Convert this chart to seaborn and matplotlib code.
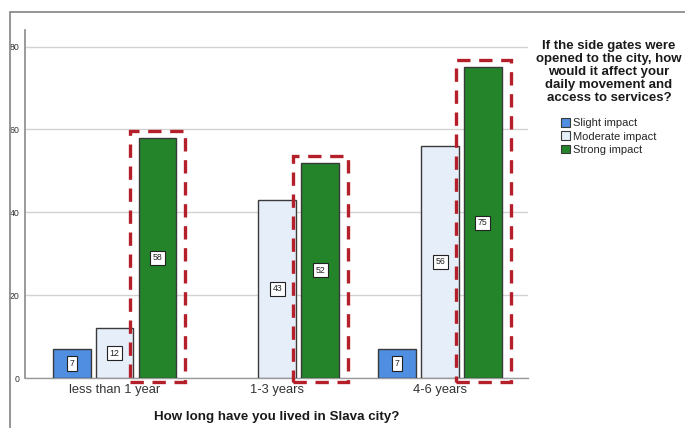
import matplotlib
matplotlib.use("Agg")
import matplotlib.pyplot as plt
from matplotlib.patches import Rectangle, Patch
import seaborn as sns
import pandas as pd

# ---- data ----
categories = ["less than 1 year", "1-3 years", "4-6 years"]
impact_levels = ["Slight impact", "Moderate impact", "Strong impact"]
slight = [7, None, 7]
moderate = [12, 43, 56]
strong = [58, 52, 75]
y_ticks = [0, 20, 40, 60, 80]

colors = ["#4f8ee0", "#e6eef9", "#24842a"]
edge = "#3a3a3a"

rows = []
for level, vals in zip(impact_levels, [slight, moderate, strong]):
    for cat, v in zip(categories, vals):
        if v is not None:
            rows.append({"cat": cat, "level": level, "value": v})
df = pd.DataFrame(rows)

sns.set_theme(style="white")
plt.rcParams["font.family"] = ["Liberation Sans", "DejaVu Sans"]

fig = plt.figure(figsize=(6.85, 4.28), dpi=100)
ax = fig.add_axes([25 / 685, 1 - 378 / 428, (528 - 25) / 685, (378 - 30) / 428])

sns.barplot(data=df, x="cat", y="value", hue="level", order=categories,
            hue_order=impact_levels, palette=colors, saturation=1,
            width=0.79, gap=0.12, edgecolor=edge, linewidth=1.0, ax=ax,
            legend=False, zorder=3)

ax.set_ylim(0, 84)
ax.set_xlim(-0.55, 2.54)
ax.set_yticks(y_ticks)
ax.set_yticklabels([str(t) for t in y_ticks], fontsize=6.3, color="#333333")
ax.tick_params(axis="y", length=0, pad=4)
ax.tick_params(axis="x", length=0, pad=4, labelsize=9.3, labelcolor="#333333")
ax.yaxis.grid(True, color="#d2d2d2", linewidth=1.0, zorder=0)
ax.set_axisbelow(True)
for s in ["top", "right"]:
    ax.spines[s].set_visible(False)
ax.spines["left"].set_color("#8a8a8a")
ax.spines["bottom"].set_color("#9a9a9a")
ax.spines["left"].set_linewidth(1.2)
ax.spines["bottom"].set_linewidth(1.0)
ax.set_ylabel("")
ax.set_xlabel("How long have you lived in Slava city?", fontsize=9.6,
              fontweight="bold", color="#1a1a1a", labelpad=11)

# value labels
for cont in ax.containers:
    ax.bar_label(cont, label_type="center", fontsize=6.3, color="#222222",
                 bbox=dict(boxstyle="square,pad=0.3", fc="white", ec="#222222", lw=0.8),
                 zorder=5)

# red dashed boxes around the strong-impact bars
for p in ax.containers[2].patches:
    x0 = p.get_x() - 0.05
    w = p.get_width() + 0.105
    y0 = -1.0
    h = p.get_height() + 2.7
    ax.add_patch(Rectangle((x0, y0), w, h, fill=False, ec="#b51f2a", lw=2.4,
                           ls=(0, (4, 2.6)), clip_on=False, zorder=6))

# legend
fig.text(609 / 685, 1 - 40 / 428,
         "If the side gates were\nopened to the city, how\nwould it affect your\ndaily movement and\naccess to services?",
         ha="center", va="top", fontsize=9.5, fontweight="bold", color="#1a1a1a",
         linespacing=1.1)
handles = [Patch(facecolor=c, edgecolor=edge, lw=0.8) for c in colors]
fig.legend(handles, impact_levels, loc="upper left",
           bbox_to_anchor=(561 / 685, 1 - 118 / 428), frameon=False,
           fontsize=8.0, handlelength=0.8, handleheight=0.8,
           handletextpad=0.3, labelspacing=0.3, borderpad=0,
           borderaxespad=0)

# outer frame of the screenshot
fig.add_artist(Rectangle((10 / 685, -0.1), 1.2, 1 - 12 / 428 + 0.1,
                         transform=fig.transFigure, fill=False,
                         ec="#8c8c8c", lw=1.3, zorder=10))

fig.savefig("out.png", dpi=100)
